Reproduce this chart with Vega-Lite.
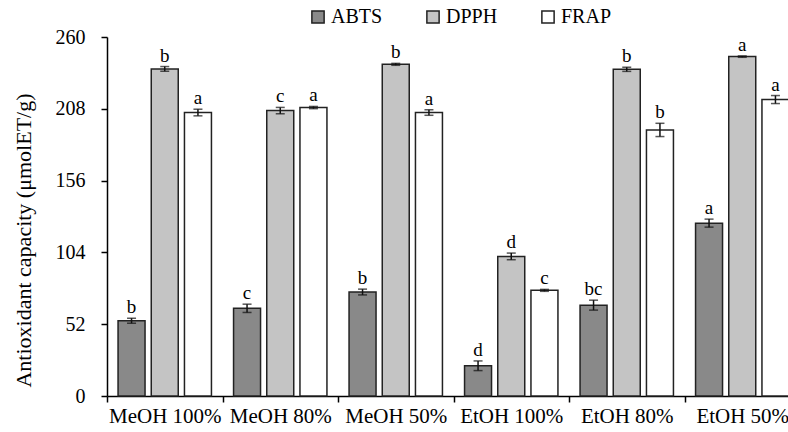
{
  "$schema": "https://vega.github.io/schema/vega-lite/v6.json",
  "autosize": {"type": "none"},
  "padding": {"left": 107, "top": 37, "right": 0, "bottom": 36},
  "width": 681,
  "height": 359,
  "background": "white",
  "config": {
    "view": {"stroke": null},
    "font": "Liberation Serif",
    "axis": {"labelFont": "Liberation Serif", "titleFont": "Liberation Serif", "domainColor": "#000", "tickColor": "#000", "labelColor": "#000", "titleColor": "#000", "grid": false, "domainWidth": 1.5, "tickWidth": 1.5},
    "legend": {"labelFont": "Liberation Serif", "labelColor": "#000"}
  },
  "data": {"values": [
    {"solvent": "MeOH 100%", "assay": "ABTS", "value": 54.5, "err": 1.8, "letter": "b"},
    {"solvent": "MeOH 100%", "assay": "DPPH", "value": 236.9, "err": 1.7, "letter": "b"},
    {"solvent": "MeOH 100%", "assay": "FRAP", "value": 205.3, "err": 2.4, "letter": "a"},
    {"solvent": "MeOH 80%", "assay": "ABTS", "value": 63.5, "err": 3.0, "letter": "c"},
    {"solvent": "MeOH 80%", "assay": "DPPH", "value": 206.7, "err": 2.3, "letter": "c"},
    {"solvent": "MeOH 80%", "assay": "FRAP", "value": 208.9, "err": 0.8, "letter": "a"},
    {"solvent": "MeOH 50%", "assay": "ABTS", "value": 75.3, "err": 2.1, "letter": "b"},
    {"solvent": "MeOH 50%", "assay": "DPPH", "value": 240.2, "err": 0.7, "letter": "b"},
    {"solvent": "MeOH 50%", "assay": "FRAP", "value": 205.3, "err": 2.0, "letter": "a"},
    {"solvent": "EtOH 100%", "assay": "ABTS", "value": 21.9, "err": 3.5, "letter": "d"},
    {"solvent": "EtOH 100%", "assay": "DPPH", "value": 101.1, "err": 2.4, "letter": "d"},
    {"solvent": "EtOH 100%", "assay": "FRAP", "value": 76.5, "err": 0.7, "letter": "c"},
    {"solvent": "EtOH 80%", "assay": "ABTS", "value": 65.8, "err": 3.6, "letter": "bc"},
    {"solvent": "EtOH 80%", "assay": "DPPH", "value": 236.6, "err": 1.5, "letter": "b"},
    {"solvent": "EtOH 80%", "assay": "FRAP", "value": 192.7, "err": 4.8, "letter": "b"},
    {"solvent": "EtOH 50%", "assay": "ABTS", "value": 125.2, "err": 2.9, "letter": "a"},
    {"solvent": "EtOH 50%", "assay": "DPPH", "value": 245.8, "err": 0.5, "letter": "a"},
    {"solvent": "EtOH 50%", "assay": "FRAP", "value": 214.7, "err": 2.9, "letter": "a"}
  ]},
  "transform": [
    {"calculate": "datum.value - datum.err", "as": "lo"},
    {"calculate": "datum.value + datum.err", "as": "hi"}
  ],
  "encoding": {
    "x": {
      "field": "solvent", "type": "nominal",
      "sort": ["MeOH 100%", "MeOH 80%", "MeOH 50%", "EtOH 100%", "EtOH 80%", "EtOH 50%"],
      "scale": {"range": [0, 693], "paddingInner": 0, "paddingOuter": 0},
      "axis": {"title": null, "labelAngle": 0, "labelFontSize": 21, "tickBand": "extent", "tickSize": 6, "labelPadding": 3, "labelBaseline": "top"}
    },
    "xOffset": {
      "field": "assay", "type": "nominal",
      "scale": {"paddingInner": 0.187, "paddingOuter": 0.333}
    }
  },
  "layer": [
    {
      "mark": {"type": "bar", "stroke": "#222", "strokeWidth": 1.5},
      "encoding": {
        "y": {
          "field": "value", "type": "quantitative",
          "scale": {"domain": [0, 260], "nice": false},
          "axis": {
            "title": "Antioxidant capacity  (μmolET/g)",
            "titleFontSize": 22, "titleFontWeight": "normal",
            "titleX": -84, "titleY": 203, "titleAngle": -90, "titleBaseline": "middle", "titleAlign": "center",
            "values": [0, 26, 52, 78, 104, 130, 156, 182, 208, 234, 260],
            "labelExpr": "datum.value % 52 === 0 ? datum.label : ''",
            "labelFontSize": 20, "tickSize": 6, "labelPadding": 16
          }
        },
        "fill": {
          "field": "assay", "type": "nominal",
          "scale": {"domain": ["ABTS", "DPPH", "FRAP"], "range": ["#898989", "#c4c4c4", "#ffffff"]},
          "legend": {
            "title": null, "orient": "none", "direction": "horizontal",
            "legendX": 201, "legendY": -30,
            "symbolType": "square", "symbolSize": 150, "symbolStrokeColor": "#222", "symbolStrokeWidth": 1.5,
            "labelFontSize": 20, "labelOffset": 3, "columnPadding": 40
          }
        }
      }
    },
    {
      "mark": {"type": "rule", "color": "#111", "strokeWidth": 1.5},
      "encoding": {"y": {"field": "lo", "type": "quantitative"}, "y2": {"field": "hi"}}
    },
    {
      "mark": {"type": "tick", "color": "#111", "thickness": 1.5, "size": 9, "orient": "horizontal"},
      "encoding": {"y": {"field": "lo", "type": "quantitative"}}
    },
    {
      "mark": {"type": "tick", "color": "#111", "thickness": 1.5, "size": 9, "orient": "horizontal"},
      "encoding": {"y": {"field": "hi", "type": "quantitative"}}
    },
    {
      "mark": {"type": "text", "fontSize": 19, "dy": -5, "baseline": "alphabetic", "color": "#000"},
      "encoding": {"y": {"field": "hi", "type": "quantitative"}, "text": {"field": "letter"}}
    }
  ]
}
